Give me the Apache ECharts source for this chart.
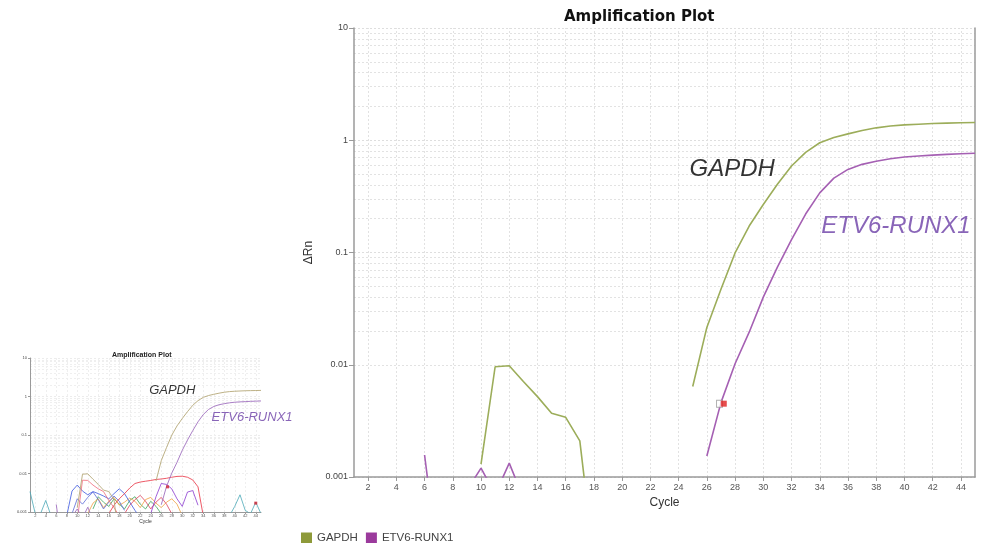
<!DOCTYPE html>
<html>
<head>
<meta charset="utf-8">
<script src="https://cdn.jsdelivr.net/npm/echarts@6/dist/echarts.min.js"></script>
<style>
html,body{margin:0;padding:0;background:#fff;}
#chart{width:986px;height:543px;}
</style>
</head>
<body>
<div id="chart"></div>
<script>
// ---- data ----
const cycles = [1,2,3,4,5,6,7,8,9,10,11,12,13,14,15,16,17,18,19,20,21,22,23,24,25,26,27,28,29,30,31,32,33,34,35,36,37,38,39,40,41,42,43,44,45];
const xTickLabels = [2,4,6,8,10,12,14,16,18,20,22,24,26,28,30,32,34,36,38,40,42,44];
const yTickLabels = [0.001, 0.01, 0.1, 1, 10];

const gapdh = [null,null,null,null,null,null,null,null,null,0.0013,
  0.0096,0.0098,0.0071,0.0052,0.0037,0.0034,0.0021,0.00018,null,null,
  null,null,null,null,0.0064,0.0215,0.047,0.099,0.172,0.268,
  0.405,0.59,0.78,0.95,1.06,1.14,1.22,1.29,1.34,1.37,
  1.39,1.41,1.42,1.43,1.44];
const etv6 = [null,null,null,null,null,0.00157,0.00016,0.0003,0.00076,0.0012,
  0.0007,0.00133,0.00065,null,null,null,null,null,null,null,
  null,null,null,null,null,0.00154,0.0046,0.0102,0.0195,0.040,
  0.074,0.13,0.22,0.34,0.46,0.55,0.61,0.65,0.685,0.71,
  0.725,0.737,0.748,0.757,0.766];

// Ct marker (cycle, dRn)
const ctMarker = [[27.2, 0.0045]];
const ctMarkerEdge = [[26.9, 0.0045]];
const insetExtraMarker = [[44, 0.0017]];

// annotation labels (cycle, dRn)
const mainLabels = [
  {text:'GAPDH', cycle:27.8, value:0.55, color:'#000000'},
  {text:'ETV6-RUNX1', cycle:39.4, value:0.17, color:'#6b3fa6'}
];
const insetLabels = [
  {text:'GAPDH', cycle:28.1, value:1.45, color:'#000000'},
  {text:'ETV6-RUNX1', cycle:43.3, value:0.28, color:'#6b3fa6'}
];

// background wells in the overview thumbnail (cycle, dRn), estimated
const noiseRed = [[16,0.0009],[17,0.0015],[18,0.0022],[19,0.003],[20,0.0042],[21,0.0055],[22,0.006],[23,0.0063],[24,0.0066],[25,0.007],[26,0.0072],[27,0.0075],[28,0.008],[29,0.0084],[30,0.0085],[31,0.008],[32,0.0068],[33,0.0045],[34,0.0008]];
const noisePink = [[10,0.0006],[11,0.0067],[12,0.0066],[13,0.005],[14,0.004],[15,0.0034],[16,0.002],[17,0.0013],[18,0.0008]];
const noiseBlue = [[8,0.0008],[9,0.0035],[10,0.005],[11,0.0035],[12,0.0028],[13,0.0034],[14,0.003],[15,0.0026],[16,0.0022],[17,0.003],[18,0.004],[19,0.003],[20,0.0018],[21,0.0011],[22,0.0007]];
const noisePurple = [[24,0.0009],[25,0.0025],[26,0.0055],[27,0.0052],[28,0.004],[29,0.0022],[30,0.0014],[31,0.0033],[32,0.0036],[33,0.0015]];
const noiseGreen = [[13,0.0012],[14,0.0025],[15,0.0018],[16,0.0014],[17,0.0022],[18,0.0016],[19,0.0012],[20,0.002],[21,0.0025],[22,0.0016],[23,0.0012],[24,0.0019],[25,0.0014],[26,0.0009]];
const noiseOrange = [[12,0.0009],[13,0.0017],[14,0.0022],[15,0.0013],[16,0.0019],[17,0.0024],[18,0.0015],[19,0.0018],[20,0.0023],[21,0.0019],[22,0.0013],[23,0.0021],[24,0.0024],[25,0.0017],[26,0.0013],[27,0.0018],[28,0.0022],[29,0.0016],[30,0.0008]];
const noiseTealLeft = [[1,0.0034],[2,0.0009],[3,0.0009],[4,0.002],[5,0.0008]];
const noiseTealRight = [[39,0.0008],[40,0.0014],[41,0.0028],[42,0.0011],[43,0.0009],[44,0.0018],[45,0.0009]];
const noiseBlue2 = [[9,0.0009],[10,0.0022],[11,0.0016],[12,0.0024],[13,0.0033],[14,0.0021],[15,0.0012],[16,0.0018],[17,0.0026],[18,0.0019],[19,0.0011]];
const noiseRed2 = [[19,0.0009],[20,0.0015],[21,0.0021],[22,0.0027],[23,0.0019],[24,0.0012],[25,0.0018],[26,0.0024],[27,0.0016],[28,0.0009]];

// ---- build ----
const pairs = arr => cycles.map((c,i)=>[c, arr[i]]);
const GAPDH_LINE = '#9cad5a', ETV6_LINE = '#a560b3';
const GAPDH_KEY = '#8e9a3a', ETV6_KEY = '#9b3a9c';
const FONT = 'Liberation Sans, Arial, sans-serif';

function gridLines(){
  const d = [];
  xTickLabels.forEach(x=>d.push({xAxis:x}));
  [0.001,0.01,0.1,1].forEach(dec=>{ for(let k=2;k<=9;k++) d.push({yAxis:+(dec*k).toPrecision(3)}); });
  return d;
}
function gridSeries(ix, color){
  return {type:'line', xAxisIndex:ix, yAxisIndex:ix, data:[], silent:true, z:0,
    markLine:{silent:true, z:0, zlevel:0, symbol:'none', animation:false, label:{show:false},
      lineStyle:{color:color, type:[2,2], width:1}, data:gridLines()}};
}
function labelSeries(ix, labels, fontSize){
  return {type:'scatter', xAxisIndex:ix, yAxisIndex:ix, silent:true, z:6,
    data: labels.map(l=>({value:[l.cycle,l.value],
      label:{show:true, position:'inside', formatter:l.text, color:l.color,
        fontSize:fontSize, fontStyle:'italic', fontFamily:FONT}})),
    symbolSize:1, itemStyle:{color:'rgba(0,0,0,0)'}};
}
function noise(data, color){
  return {type:'line', xAxisIndex:1, yAxisIndex:1, data:data, showSymbol:false, symbol:'none',
    lineStyle:{color:color, width:0.8}, silent:true, z:3, clip:true};
}
function xAx(ix, fs, nameFs, nameGap, margin){
  return {type:'value', gridIndex:ix, min:1, max:45,
    name:'Cycle', nameLocation:'middle', nameGap:nameGap,
    nameTextStyle:{fontSize:nameFs, color:'#333', fontFamily:FONT},
    axisLine:{show:true, lineStyle:{color:'#9a9a9a', width:ix?1:1.5}},
    axisTick:{show:true, customValues:xTickLabels, length:ix?2:4, lineStyle:{color:'#9a9a9a'}},
    axisLabel:{customValues:xTickLabels, fontSize:fs, color:'#555', margin:margin, fontFamily:FONT},
    splitLine:{show:false}};
}
function yAx(ix, fs, nameShow, gridColor){
  return {type:'log', logBase:10, gridIndex:ix, min:0.001, max:10,
    name: nameShow ? 'ΔRn' : '', nameLocation:'middle', nameGap:38,
    nameTextStyle:{fontSize:12, color:'#333', fontFamily:FONT},
    axisLine:{show:true, lineStyle:{color:'#9a9a9a', width:ix?1:1.5}},
    axisTick:{show:true, length:ix?2:5, lineStyle:{color:'#9a9a9a'}},
    axisLabel:{fontSize:fs, color:'#444', margin:ix?3:6, fontFamily:FONT,
      formatter:v=>{ const m = yTickLabels.find(t=>Math.abs(t-v)/t<1e-6); return m===undefined?'':String(m);} },
    splitLine:{show:true, lineStyle:{color:gridColor, type:[2,2]}}};
}

const option = {
  animation:false,
  backgroundColor:'#ffffff',
  textStyle:{fontFamily:FONT},
  title:[
    {text:'Amplification Plot', left:559, top:5, textStyle:{fontSize:15, fontWeight:'bold', color:'#111', fontFamily:'DejaVu Sans, sans-serif'}},
    {text:'Amplification Plot', left:107, top:347, textStyle:{fontSize:7, fontWeight:'bold', color:'#222', fontFamily:FONT}}
  ],
  legend:{left:296, top:527, icon:'rect', itemWidth:11, itemHeight:11, itemGap:8,
    textStyle:{fontSize:11.5, color:'#444', fontFamily:FONT},
    data:[{name:'GAPDH', itemStyle:{color:GAPDH_KEY}}, {name:'ETV6-RUNX1', itemStyle:{color:ETV6_KEY}}]},
  grid:[
    {left:354, top:28, right:11, bottom:66, containLabel:false},
    {left:30, top:358, width:231, height:154, containLabel:false}
  ],
  xAxis:[xAx(0, 9, 12, 17, 6), xAx(1, 4, 5, 5, 2)],
  yAxis:[yAx(0, 9, true, '#dedede'), yAx(1, 4, false, '#ececec'),
    {type:'value', gridIndex:0, min:0, max:1, position:'right', axisLine:{show:true, lineStyle:{color:'#9a9a9a', width:1.5}}, axisTick:{show:false}, axisLabel:{show:false}, splitLine:{show:false}}],
  series:[
    gridSeries(0, '#e2e2e2'), gridSeries(1, '#efefef'),
    {name:'GAPDH', type:'line', xAxisIndex:0, yAxisIndex:0, data:pairs(gapdh), showSymbol:false, symbol:'none', clip:true, z:4,
      itemStyle:{color:GAPDH_KEY}, lineStyle:{color:GAPDH_LINE, width:1.6}},
    {name:'ETV6-RUNX1', type:'line', xAxisIndex:0, yAxisIndex:0, data:pairs(etv6), showSymbol:false, symbol:'none', clip:true, z:4,
      itemStyle:{color:ETV6_KEY}, lineStyle:{color:ETV6_LINE, width:1.6}},
    {type:'scatter', xAxisIndex:0, yAxisIndex:0, data:ctMarkerEdge, symbol:'rect', symbolSize:[6,7], z:5, silent:true,
      itemStyle:{color:'#ffffff', borderColor:'#999', borderWidth:1}},
    {type:'scatter', xAxisIndex:0, yAxisIndex:0, data:ctMarker, symbol:'rect', symbolSize:[6,6], z:5, silent:true,
      itemStyle:{color:'#e02020'}},
    labelSeries(0, mainLabels, 24),
    // overview thumbnail
    noise(noiseTealLeft,'#4aa8b8'), noise(noiseTealRight,'#4aa8b8'),
    noise(noiseGreen,'#3ea35a'), noise(noiseOrange,'#f0a040'),
    noise(noiseBlue,'#3a55e0'), noise(noiseBlue2,'#5a6ad8'),
    noise(noisePink,'#f06a7a'), noise(noiseRed2,'#e0405a'),
    noise(noisePurple,'#8a3ad0'), noise(noiseRed,'#e83040'),
    {type:'line', xAxisIndex:1, yAxisIndex:1, data:pairs(gapdh), showSymbol:false, symbol:'none', clip:true, z:4, silent:true,
      lineStyle:{color:'#b5a878', width:0.9}},
    {type:'line', xAxisIndex:1, yAxisIndex:1, data:pairs(etv6), showSymbol:false, symbol:'none', clip:true, z:4, silent:true,
      lineStyle:{color:'#a070c0', width:0.9}},
    {type:'scatter', xAxisIndex:1, yAxisIndex:1, data:ctMarker.concat(insetExtraMarker), symbol:'rect', symbolSize:3, z:5, silent:true,
      itemStyle:{color:'#d02030'}},
    labelSeries(1, insetLabels, 13)
  ]
};
const chart = echarts.init(document.getElementById('chart'), null, {renderer:'canvas'});
chart.setOption(option);
</script>
</body>
</html>
